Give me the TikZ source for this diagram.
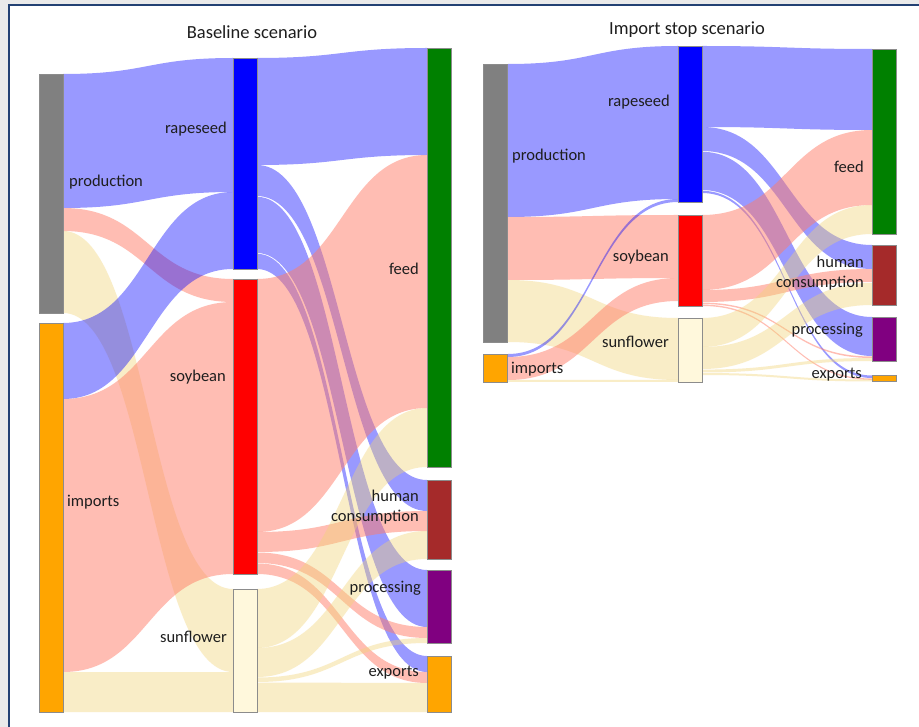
\documentclass[tikz,border=0pt]{standalone}
\usepackage{fontspec}
\setmainfont{Carlito}
\definecolor{pagegray}{RGB}{234,234,234}
\definecolor{frameblue}{RGB}{35,65,115}
\definecolor{txt}{RGB}{30,30,30}
\definecolor{pinkbase}{RGB}{255,125,105}
\definecolor{yellowbase}{RGB}{242,212,117}
\definecolor{cprod}{RGB}{128,128,128}
\definecolor{cimp}{RGB}{255,165,0}
\definecolor{crape}{RGB}{0,0,255}
\definecolor{csoy}{RGB}{255,0,0}
\definecolor{csun}{RGB}{255,248,220}
\definecolor{cfeed}{RGB}{0,128,0}
\definecolor{chum}{RGB}{165,42,42}
\definecolor{cproc}{RGB}{128,0,128}
\definecolor{cexp}{RGB}{255,165,0}
\tikzset{
  bflow/.style={fill=crape,fill opacity=0.4},
  pflow/.style={fill=pinkbase,fill opacity=0.5},
  yflow/.style={fill=yellowbase,fill opacity=0.4},
  barbox/.style={draw=black!45,line width=0.7pt,inner sep=0pt,outer sep=0pt,minimum width=24pt},
  lbl/.style={text=txt,inner sep=0pt,font=\fontsize{16.5}{20}\selectfont},
  ttl/.style={text=txt,inner sep=0pt,font=\fontsize{18.5}{22}\selectfont}
}
% flow band: x1, top1, bot1, x2, top2, bot2, style
\newcommand{\sflow}[7]{\fill[#7] (#1,#2) .. controls ({(#1+#4)/2},#2) and ({(#1+#4)/2},#5) .. (#4,#5) -- (#4,#6) .. controls ({(#1+#4)/2},#6) and ({(#1+#4)/2},#3) .. (#1,#3) -- cycle;}
% bar node: name, left x, top y, bottom y, colour
\newcommand{\sbar}[5]{\node[barbox,fill=#5,minimum height={(#4-#3)*1pt}] (#1) at ({#2+12},{(#3+#4)/2}) {};}
\begin{document}
\begin{tikzpicture}[x=1pt,y=-1pt]
\useasboundingbox (0,0) rectangle (919,727);
\fill[pagegray] (0,0) rectangle (919,727);
\fill[white] (9,5) rectangle (919,727);
\draw[frameblue,line width=1.5pt] (9,727) -- (9,5) -- (919,5);

% ================= Baseline scenario =================
\node[ttl] (t1) at (252,32) {Baseline scenario};
% production
\sflow{63}{74}{208}{233}{58}{192}{bflow}
\sflow{63}{208}{231}{233}{279}{302}{pflow}
\sflow{63}{231}{313}{233}{589}{672}{yflow}
% imports
\sflow{63}{323}{399}{233}{192}{269}{bflow}
\sflow{63}{399}{672}{233}{302}{574}{pflow}
\sflow{63}{672}{712}{233}{672}{712}{yflow}
% rapeseed
\sflow{257}{58}{165}{427}{48}{155}{bflow}
\sflow{257}{165}{196}{427}{480}{511}{bflow}
\sflow{257}{196.8}{253}{427}{570}{627}{bflow}
\sflow{257}{253.8}{269}{427}{656}{672}{bflow}
% soybean
\sflow{257}{279}{532}{427}{155}{408}{pflow}
\sflow{257}{532}{552}{427}{511}{531}{pflow}
\sflow{257}{552.5}{563}{427}{627}{638}{pflow}
\sflow{257}{563.5}{574}{427}{672}{683}{pflow}
% sunflower
\sflow{257}{589}{648}{427}{408}{467}{yflow}
\sflow{257}{648}{677}{427}{531}{559}{yflow}
\sflow{257}{677.5}{682}{427}{638}{643}{yflow}
\sflow{257}{682.5}{712}{427}{683}{712}{yflow}
% bars
\sbar{Lprod}{39}{74}{313}{cprod}
\sbar{Limp}{39}{323}{712}{cimp}
\sbar{Lrape}{233}{58}{269}{crape}
\sbar{Lsoy}{233}{279}{574}{csoy}
\sbar{Lsun}{233}{589}{712}{csun}
\sbar{Lfeed}{427}{48}{467}{cfeed}
\sbar{Lhum}{427}{480}{559}{chum}
\sbar{Lproc}{427}{570}{643}{cproc}
\sbar{Lexp}{427}{656}{712}{cexp}
% labels
\node[lbl,anchor=west] (lprodt) at (69,182) {production};
\node[lbl,anchor=west] (limpt) at (67,502) {imports};
\node[lbl,anchor=east] (lrapet) at (227,129) {rapeseed};
\node[lbl,anchor=east] (lsoyt) at (226,377) {soybean};
\node[lbl,anchor=east] (lsunt) at (227,637) {sunflower};
\node[lbl,anchor=east] (lfeedt) at (419,269) {feed};
\node[lbl,anchor=east,align=right] (lhumt) at (419,507) {human\\consumption};
\node[lbl,anchor=east] (lproct) at (421,588) {processing};
\node[lbl,anchor=east] (lexpt) at (419,673) {exports};

% ================= Import stop scenario =================
\node[ttl] (t2) at (687,30) {Import stop scenario};
% production
\sflow{508}{64}{217}{678}{46}{199}{bflow}
\sflow{508}{217}{280}{678}{215}{278}{pflow}
\sflow{508}{280}{342}{678}{318}{380}{yflow}
% imports
\sflow{508}{354}{357}{678}{199}{202}{bflow}
\sflow{508}{357}{380}{678}{278}{301}{pflow}
\sflow{508}{380}{382}{678}{380}{382}{yflow}
% rapeseed
\sflow{702}{46}{127}{872}{49}{130}{bflow}
\sflow{702}{127}{151}{872}{245}{269}{bflow}
\sflow{702}{151.8}{190}{872}{317}{356}{bflow}
\sflow{702}{190.8}{193}{872}{375.5}{378}{bflow}
% soybean
\sflow{702}{215}{290}{872}{130}{205}{pflow}
\sflow{702}{290}{302}{872}{269}{282}{pflow}
\sflow{702}{302.6}{304}{872}{356.5}{358}{pflow}
\sflow{702}{304.6}{306}{872}{378.5}{379.8}{pflow}
% sunflower
\sflow{702}{318}{347}{872}{205}{234}{yflow}
\sflow{702}{347}{369}{872}{283}{305}{yflow}
\sflow{702}{369.6}{372.5}{872}{358}{361}{yflow}
\sflow{702}{373}{375}{872}{379.5}{381.5}{yflow}
% bars
\sbar{Rprod}{483}{64}{342}{cprod}
\sbar{Rimp}{483}{354}{382}{cimp}
\sbar{Rrape}{678}{46}{202}{crape}
\sbar{Rsoy}{678}{215}{306}{csoy}
\sbar{Rsun}{678}{318}{382}{csun}
\sbar{Rfeed}{872}{49}{234}{cfeed}
\sbar{Rhum}{872}{245}{305}{chum}
\sbar{Rproc}{872}{317}{361}{cproc}
\sbar{Rexp}{872}{375}{381.5}{cexp}
% labels
\node[lbl,anchor=west] (rprodt) at (512,156) {production};
\node[lbl,anchor=west] (rimpt) at (511,369) {imports};
\node[lbl,anchor=east] (rrapet) at (670,102) {rapeseed};
\node[lbl,anchor=east] (rsoyt) at (669,257) {soybean};
\node[lbl,anchor=east] (rsunt) at (669,342) {sunflower};
\node[lbl,anchor=east] (rfeedt) at (864,167) {feed};
\node[lbl,anchor=east,align=right] (rhumt) at (864,273) {human\\consumption};
\node[lbl,anchor=east] (rproct) at (863,330) {processing};
\node[lbl,anchor=east] (rexpt) at (862,375) {exports};
\end{tikzpicture}
\end{document}
